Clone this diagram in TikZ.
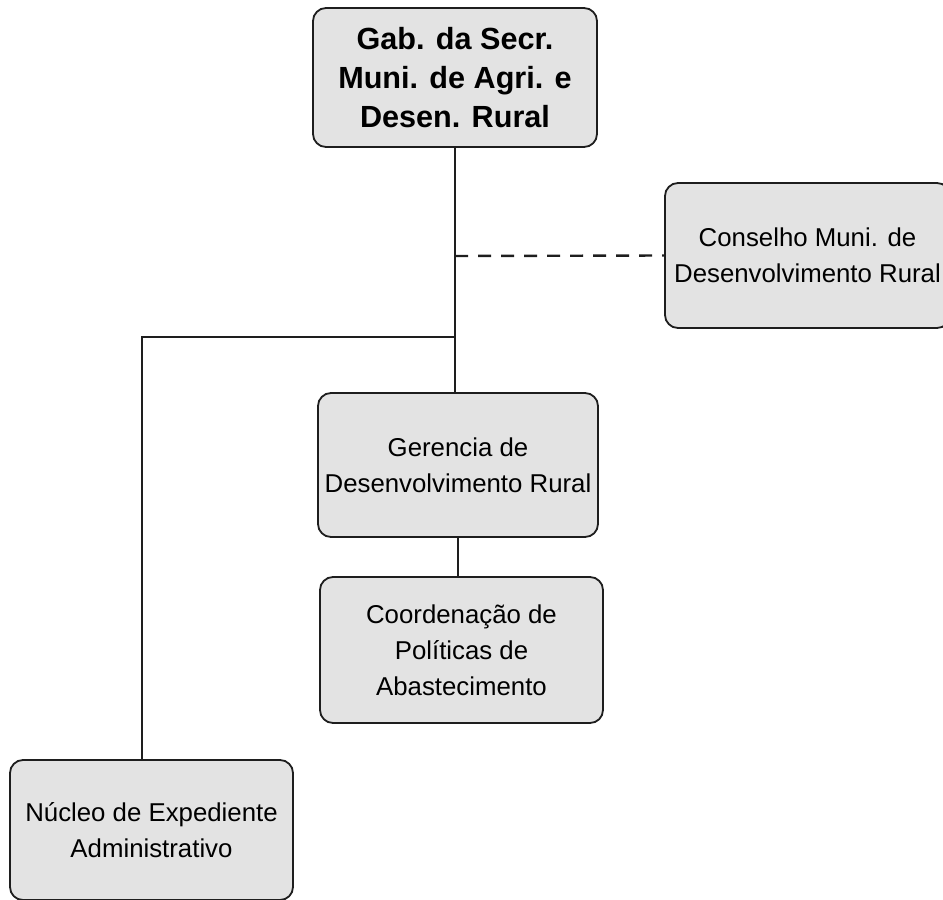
\documentclass[tikz,border=0pt]{standalone}
\usepackage{fontspec}
\setmainfont{Liberation Sans}
\definecolor{boxfill}{HTML}{E3E3E3}
\definecolor{linecol}{HTML}{1E1E1E}
\begin{document}
\begin{tikzpicture}[x=1pt,y=-1pt,
  orgbox/.style={draw=linecol, line width=1.8pt, fill=boxfill, rounded corners=13pt,
    align=center, inner sep=0pt, font=\fontsize{25.8}{36}\selectfont},
  topbox/.style={orgbox, font=\fontsize{30.6}{39}\selectfont\bfseries},
  conn/.style={draw=linecol, line width=1.8pt},
  dashconn/.style={conn, line width=2.4pt, dash pattern=on 13pt off 10pt}]
\useasboundingbox (0,0) rectangle (943,900);
\clip (0,0) rectangle (943,900);
\node[topbox, minimum width=284pt, minimum height=139pt] (top) at (455,77.5)
  {Gab. da Secr.\\Muni. de Agri. e\\Desen. Rural};
\node[orgbox, minimum width=285pt, minimum height=145pt] (cons) at (807.5,255.5)
  {Conselho Muni. de\\Desenvolvimento Rural};
\node[orgbox, minimum width=280pt, minimum height=144pt] (ger) at (458,465)
  {Gerencia de\\Desenvolvimento Rural};
\node[orgbox, minimum width=283pt, minimum height=146pt] (coord) at (461.5,650)
  {Coordenação de\\Políticas de\\Abastecimento};
\node[orgbox, minimum width=283pt, minimum height=140pt] (nuc) at (151.5,830)
  {Núcleo de Expediente\\Administrativo};
\coordinate (jd) at (455,256);
\coordinate (jh) at (455,337);
\coordinate (k) at (142,337);
\draw[conn] (top.south) -- (top.south|-ger.north);
\draw[dashconn] (jd) -- (cons.west);
\draw[conn] (jh) -- (k) -- (k|-nuc.north);
\draw[conn] (ger.south) -- (ger.south|-coord.north);
\end{tikzpicture}
\end{document}
